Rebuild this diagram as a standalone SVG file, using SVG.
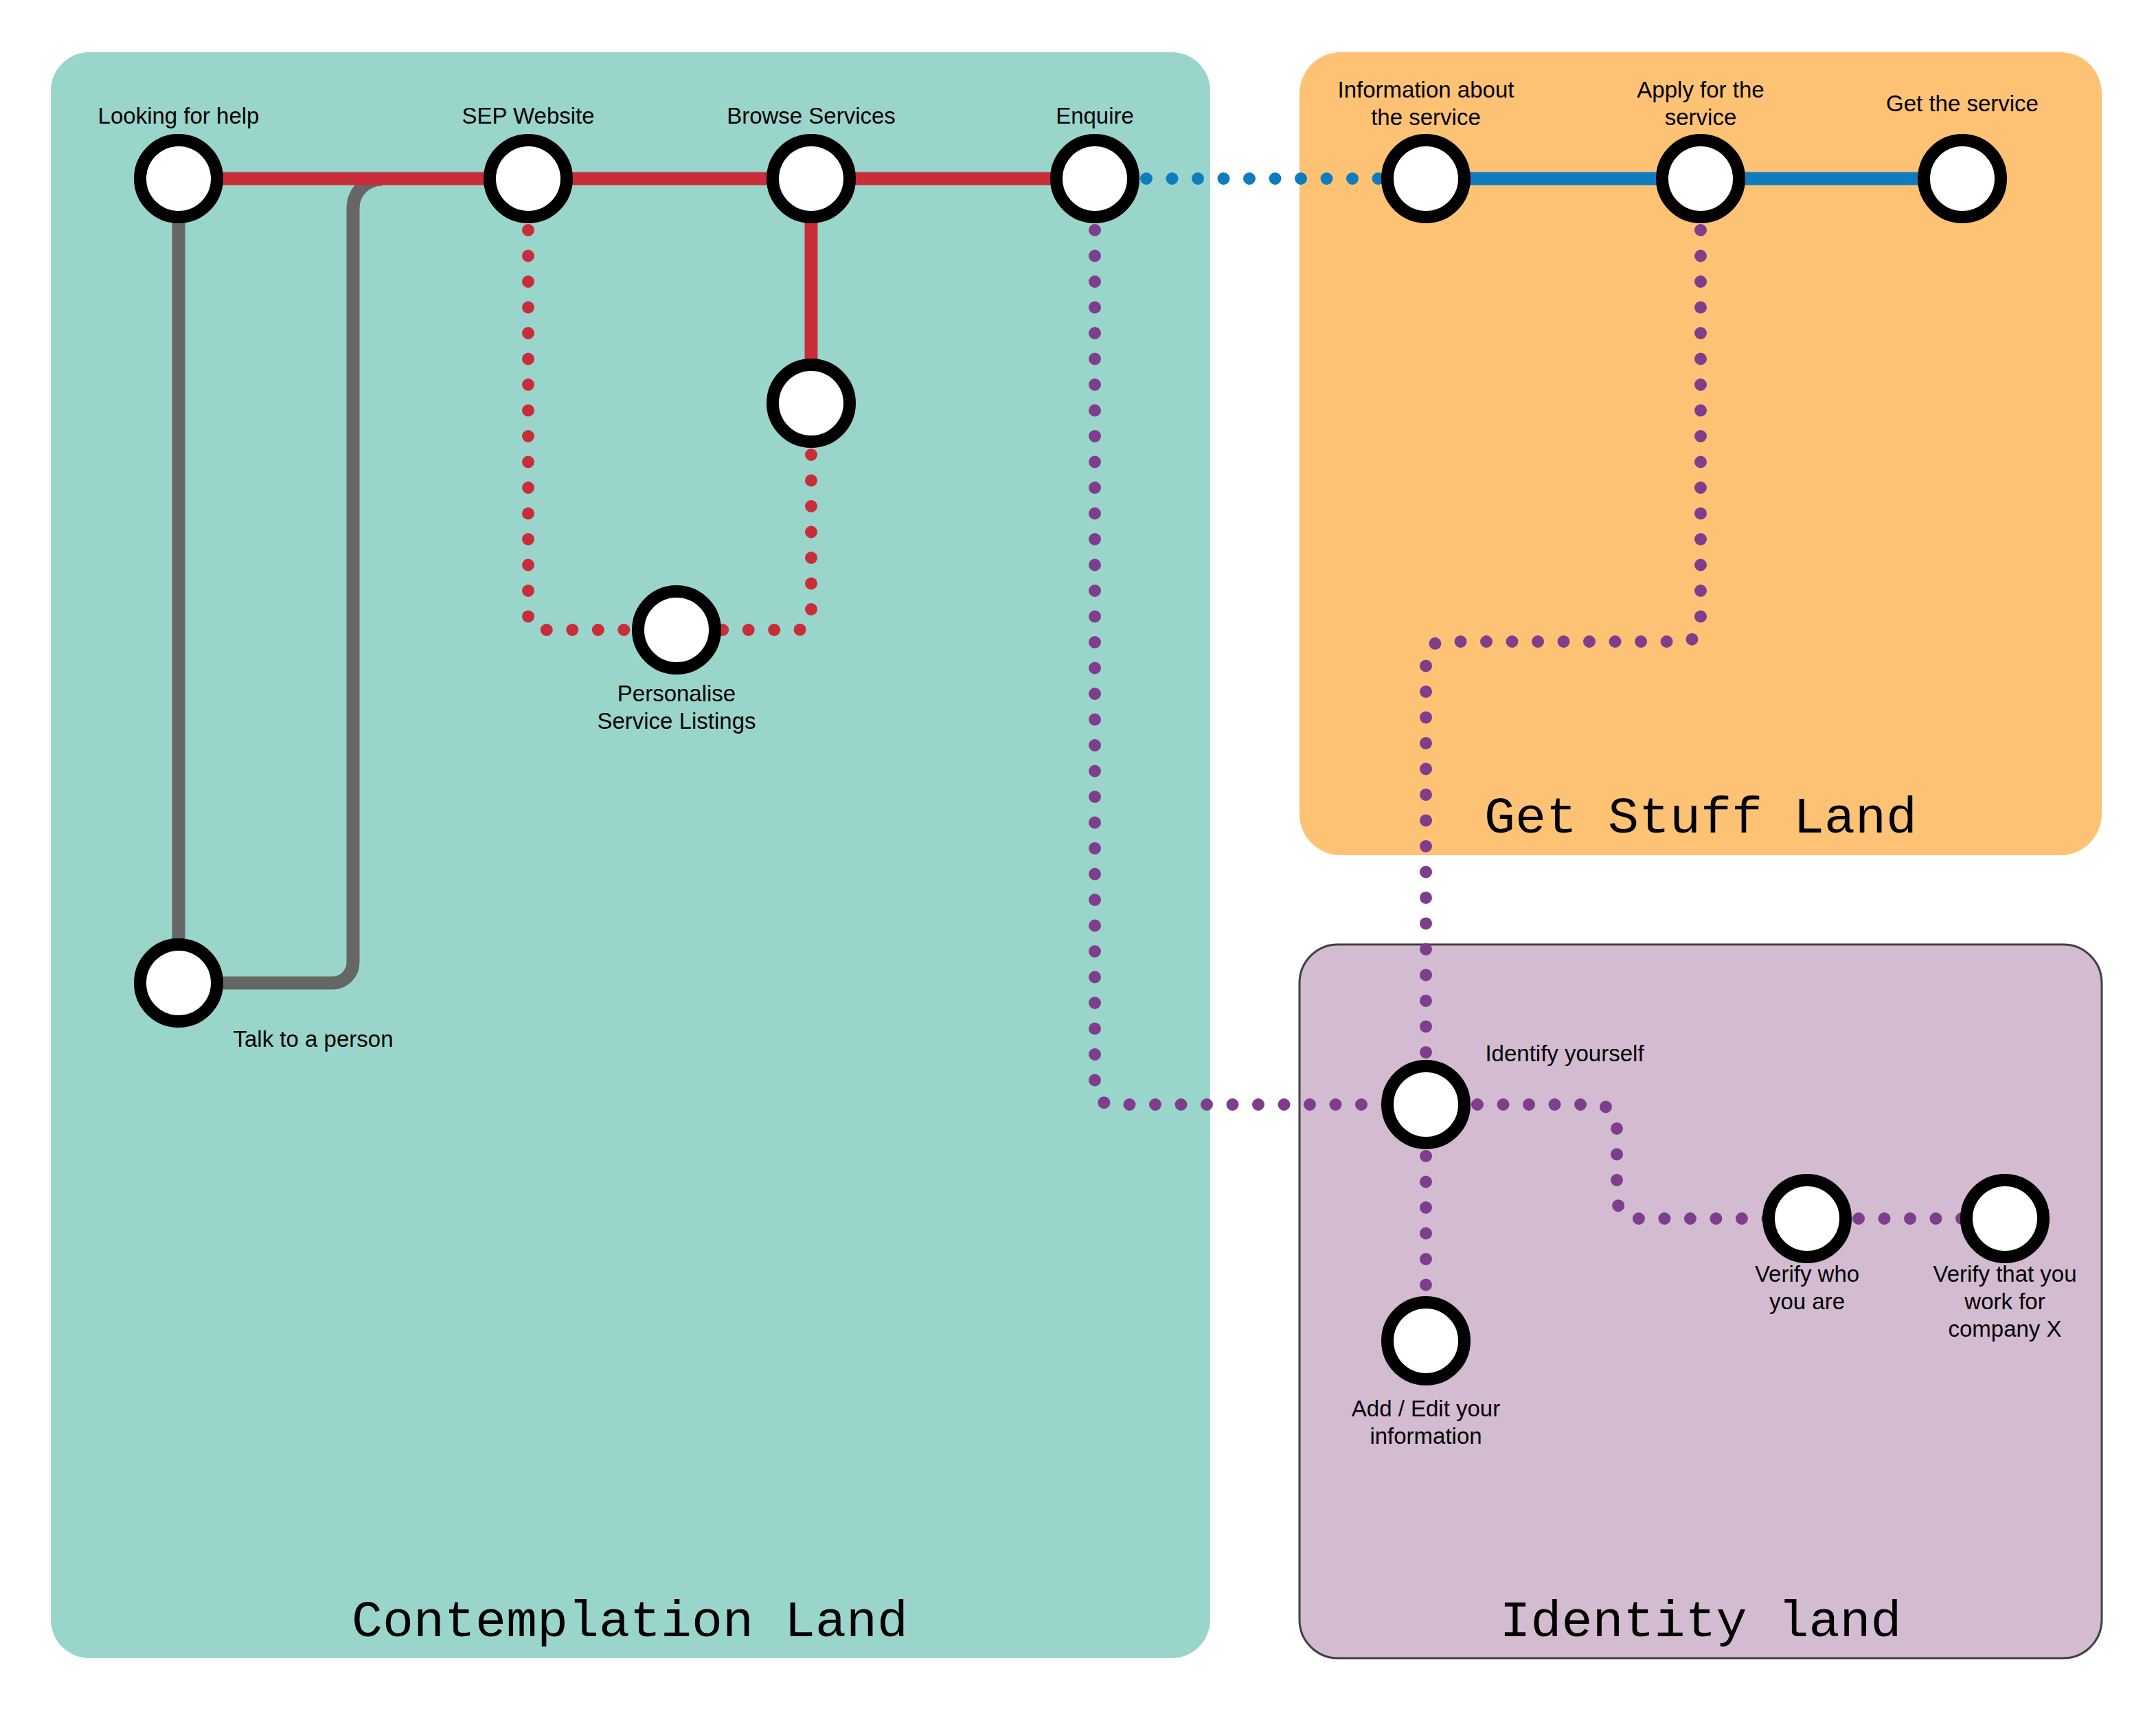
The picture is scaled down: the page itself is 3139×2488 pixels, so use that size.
<svg xmlns="http://www.w3.org/2000/svg" width="3139" height="2488" viewBox="0 0 3139 2488">
<style>
.lbl{font-family:"Liberation Sans",Arial,sans-serif;font-size:33px;fill:#000;text-anchor:middle}
.title{font-family:"Liberation Mono","DejaVu Sans Mono",monospace;font-size:75px;fill:#000;text-anchor:middle}
.node{fill:#fff;stroke:#000;stroke-width:18}
.solid{fill:none;stroke-width:19}
.dot{fill:none;stroke-width:18;stroke-linecap:round;stroke-dasharray:0 37.5}
.red{stroke:#c92d39}
.blue{stroke:#0f7cc0}
.purple{stroke:#7e3e8b}
.gray{stroke:#666666}
</style>
<rect width="3139" height="2488" fill="#ffffff"/>
<g id="regions">
<rect id="contemplation-land" x="74" y="76" width="1688" height="2338" rx="56" fill="#9ad5cb"/>
<rect id="get-stuff-land" x="1892" y="76" width="1168" height="1169" rx="60" fill="#fdc274"/>
<rect id="identity-land" x="1892" y="1375" width="1168" height="1039" rx="56" fill="#d3bbd1" stroke="#404040" stroke-width="3"/>
<text class="title" x="917" y="2382">Contemplation Land</text>
<text class="title" x="2476" y="1212">Get Stuff Land</text>
<text class="title" x="2476" y="2382">Identity land</text>
</g>
<g id="connectors">
<path class="solid gray" d="M260,260 V1431 H484 A30 30 0 0 0 514 1401 V303 A42 42 0 0 1 556 261"/>
<path class="solid red" d="M260,260 H1594"/>
<path class="solid red" d="M1181,260 V587"/>
<path class="dot red" d="M769,260 V897 A20 20 0 0 0 789 917 H985"/>
<path class="dot red" d="M1181,587 V897 A20 20 0 0 1 1161 917 H985"/>
<path class="dot blue" d="M1594,260 H2076"/>
<path class="solid blue" d="M2076,260 H2857"/>
<path class="dot purple" d="M1594,260 V1583 A25 25 0 0 0 1619 1608 H2076"/>
<path class="dot purple" d="M2476,260 V909 A25 25 0 0 1 2451 934 H2101 A25 25 0 0 0 2076 959 V1608"/>
<path class="dot purple" d="M2076,1608 V1952"/>
<path class="dot purple" d="M2076,1608 H2324 A30 30 0 0 1 2354 1638 V1744 A30 30 0 0 0 2384 1774 H2631"/>
<path class="dot purple" d="M2631,1774 H2919"/>
</g>
<g id="n-looking"><circle class="node" cx="260" cy="260" r="56"/><text class="lbl" x="260" y="180">Looking for help</text></g>
<g id="n-sep"><circle class="node" cx="769" cy="260" r="56"/><text class="lbl" x="769" y="180">SEP Website</text></g>
<g id="n-browse"><circle class="node" cx="1181" cy="260" r="56"/><text class="lbl" x="1181" y="180">Browse Services</text></g>
<g id="n-enquire"><circle class="node" cx="1594" cy="260" r="56"/><text class="lbl" x="1594" y="180">Enquire</text></g>
<g id="n-browse-sub"><circle class="node" cx="1181" cy="587" r="56"/></g>
<g id="n-personalise"><circle class="node" cx="985" cy="917" r="56"/><text class="lbl" x="985" y="1021">Personalise</text><text class="lbl" x="985" y="1061">Service Listings</text></g>
<g id="n-talk"><circle class="node" cx="260" cy="1431" r="56"/><text class="lbl" x="456" y="1524">Talk to a person</text></g>
<g id="n-info"><circle class="node" cx="2076" cy="260" r="56"/><text class="lbl" x="2076" y="142">Information about</text><text class="lbl" x="2076" y="182">the service</text></g>
<g id="n-apply"><circle class="node" cx="2476" cy="260" r="56"/><text class="lbl" x="2476" y="142">Apply for the</text><text class="lbl" x="2476" y="182">service</text></g>
<g id="n-get"><circle class="node" cx="2857" cy="260" r="56"/><text class="lbl" x="2857" y="162">Get the service</text></g>
<g id="n-identify"><circle class="node" cx="2076" cy="1608" r="56"/><text class="lbl" x="2278" y="1545">Identify yourself</text></g>
<g id="n-add"><circle class="node" cx="2076" cy="1952" r="56"/><text class="lbl" x="2076" y="2062">Add / Edit your</text><text class="lbl" x="2076" y="2102">information</text></g>
<g id="n-verify-who"><circle class="node" cx="2631" cy="1774" r="56"/><text class="lbl" x="2631" y="1866">Verify who</text><text class="lbl" x="2631" y="1906">you are</text></g>
<g id="n-verify-company"><circle class="node" cx="2919" cy="1774" r="56"/><text class="lbl" x="2919" y="1866">Verify that you</text><text class="lbl" x="2919" y="1906">work for</text><text class="lbl" x="2919" y="1946">company X</text></g>
</svg>
